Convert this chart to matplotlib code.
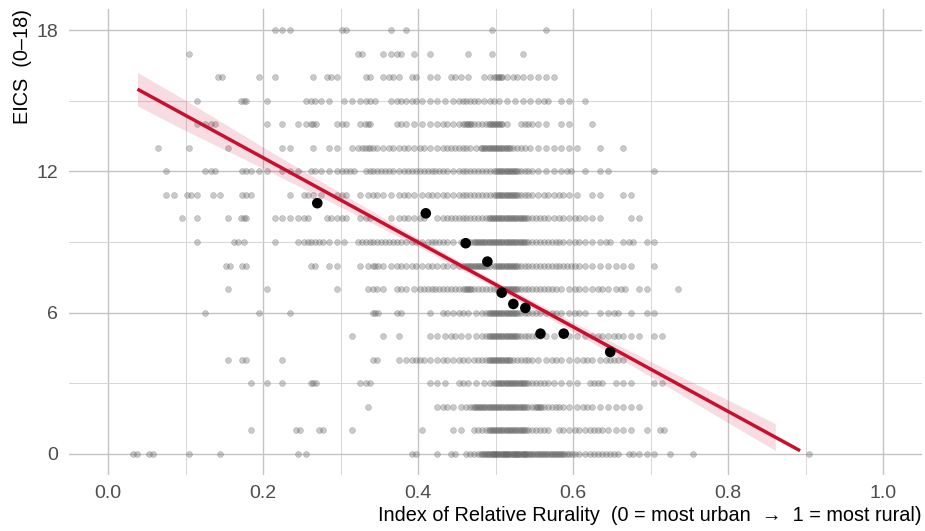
import numpy as np
import matplotlib
matplotlib.use("Agg")
import matplotlib.pyplot as plt

plt.rcParams['font.family'] = ['Liberation Sans', 'DejaVu Sans']

# EICS score levels, one density string per level:
# 100 bins of 0.01 along the rurality index, digits = number of districts in that bin
eics_levels = list(range(18, -1, -1))
density_rows = [
    "0000000000 0000000000 0111000000 2000001010 0000000001 0000001000 0000000000 0000000000 0000000000 0000000000",  # 18
    "0000000000 1000000000 0000000000 0020011201 0100001001 0001000000 0000000000 0000000000 0000000000 0000000000",  # 17
    "0000000000 0000200001 0100001021 0002012102 0110211012 5121111100 0000000000 0000000000 0000000000 0000000000",  # 16
    "0000000000 0100000300 1000012110 1112101212 1111122212 1111112011 0100000000 0000000000 0000000000 0000000000",  # 15
    "0000000000 0112000000 1010113001 2013000211 1112125225 5102211011 0010000000 0000000000 0000000000 0000000000",  # 14
    "0000001000 1000010000 0011001011 0123212121 2112222155 5522111111 1001001000 0000000000 0000000000 0000000000",  # 13
    "0000000100 0012000211 1011102111 2202222122 2222122222 5552211112 0101100000 1000000000 0000000000 0000000000",  # 12
    "0000000110 2101100210 0001021101 2011211121 1212122222 5552212121 1011001100 0000000000 0000000000 0000000000",  # 11
    "0000000001 0100010300 0111120021 2012001121 2012222225 5555222121 2111000110 0000000000 0000000000 0000000000",  # 10
    "0000000000 0100002100 0100122211 1022222212 1222112555 5555222221 2111201201 1000000000 0000000000 0000000000",  # 9
    "0000000000 0000020200 0000002011 0011311212 1212125552 5552222222 2111111100 1000000000 0000000000 0000000000",  # 8
    "0000000000 0000010000 1000000001 0001210211 2222225222 2552222211 2112112011 0001000000 0000000000 0000000000",  # 7
    "0000000000 0010000001 0001000000 0000300200 0102121125 5552221211 2101120101 1000000000 0000000000 0000000000",  # 6
    "0000000000 0000000000 0000000000 0100010100 0111211125 5552221101 1112121110 1100000000 0000000000 0000000000",  # 5
    "0000000000 0000010200 0010000000 0000200112 2112121225 5522211211 1211221000 0000000000 0000000000 0000000000",  # 4
    "0000000000 0000000010 1010003000 0012000000 0111021112 5555222111 1022011100 1100000000 0000000000 0000000000",  # 3
    "0000000000 0000000000 0000000000 0001000000 0012112555 5555252221 1211111110 0000000000 0000000000 0000000000",  # 2
    "0000000000 0000000010 0000200200 0100000000 1000110225 5555222021 2122111101 0200000000 0000000000 0000000000",  # 1
    "0002020000 1000100000 0000110000 0000000002 0010202257 7777555553 2122220211 1010010000 0000000000 1000000000",  # 0
]

# binned means (black dots)
bin_x = [0.270, 0.410, 0.4615, 0.4895, 0.508, 0.523, 0.5385, 0.558, 0.588, 0.648]
bin_y = [10.65, 10.22, 8.95, 8.17, 6.85, 6.37, 6.20, 5.11, 5.11, 4.33]

# linear fit and its confidence band
fit_x = [0.038, 0.893]
fit_y = [15.49, 0.14]
band_x = [0.038, 0.1, 0.2, 0.3, 0.4, 0.5, 0.6, 0.7, 0.8, 0.861]
band_lo = [14.78, 13.73, 12.13, 10.49, 8.81, 7.05, 5.20, 3.29, 1.33, 0.15]
band_hi = [16.20, 15.02, 13.03, 11.09, 9.17, 7.34, 5.60, 3.93, 2.29, 1.29]

x_ticks = [0.0, 0.2, 0.4, 0.6, 0.8, 1.0]
x_labels = ["0.0", "0.2", "0.4", "0.6", "0.8", "1.0"]
y_ticks = [0, 6, 12, 18]

red = '#C8102E'

# expand density strings into individual points
xs, ys = [], []
for level, row in zip(eics_levels, density_rows):
    counts = row.replace(' ', '')
    for i, ch in enumerate(counts):
        n = int(ch)
        for j in range(n):
            xs.append((i + (j + 0.5) / n) / 100)
            ys.append(level)

fig = plt.figure(figsize=(9.25, 5.31), dpi=100)
ax = fig.add_axes([0.0749, 0.1051, 0.9216, 0.8782])

ax.scatter(xs, ys, s=18, color='#666666', alpha=0.34, edgecolors='#666666',
           linewidths=0.5, zorder=2)
ax.fill_between(band_x, band_lo, band_hi, color=red, alpha=0.14, lw=0, zorder=3)
ax.plot(fit_x, fit_y, color=red, lw=2.5, solid_capstyle='butt', zorder=4)
ax.scatter(bin_x, bin_y, s=58, color='black', edgecolors='none', zorder=5)

ax.set_xlim(-0.05, 1.05)
ax.set_ylim(-0.9, 18.9)
ax.set_xticks(x_ticks)
ax.set_xticklabels(x_labels)
ax.set_xticks([0.1, 0.3, 0.5, 0.7, 0.9], minor=True)
ax.set_yticks(y_ticks)
ax.set_yticks([3, 9, 15], minor=True)
ax.grid(which='major', color='#C4C4C4', lw=1.0)
ax.grid(which='minor', color='#D6D6D6', lw=0.7)
ax.set_axisbelow(True)
for s in ax.spines.values():
    s.set_visible(False)
ax.tick_params(which='both', length=0, labelsize=14, labelcolor='#4D4D4D')
ax.tick_params(axis='x', pad=7)
ax.tick_params(axis='y', pad=8)

ax.set_xlabel("Index of Relative Rurality  (0 = most urban  \u2192  1 = most rural)",
              fontsize=14.3, color='black', loc='right')
ax.xaxis.set_label_coords(1.0, -0.066)
ax.set_ylabel("EICS  (0\u201318)", fontsize=14.3, color='black', loc='top')
ax.yaxis.set_label_coords(-0.044, 1.0)

fig.savefig('out.png', dpi=100)
